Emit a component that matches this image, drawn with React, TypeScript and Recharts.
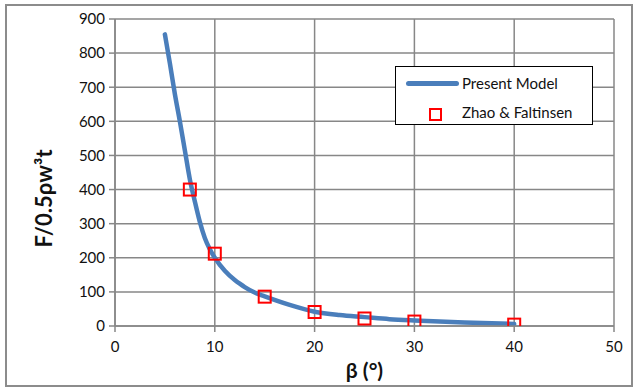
import React from "react";
import {
  ComposedChart,
  Line,
  Scatter,
  XAxis,
  YAxis,
  CartesianGrid,
} from "recharts";

const modelBeta = [5, 5.5, 6, 6.5, 7, 7.5, 8, 8.5, 9, 9.5, 10, 11, 12, 12.5, 13, 14, 15, 17.5, 20, 22.5, 25, 27.5, 30, 35, 40];
const modelForce = [855, 770, 680, 600, 515, 430, 365, 305, 258, 225, 200, 162, 135, 124, 114, 98, 87, 62, 42, 32, 26, 20, 16, 10, 6];

const expBeta = [7.5, 10, 15, 20, 25, 30, 40];
const expForce = [400, 212, 86, 41, 22, 13, 4];

const xTicks = [0, 10, 20, 30, 40, 50];
const yTicks = [0, 100, 200, 300, 400, 500, 600, 700, 800, 900];

const modelData = modelBeta.map((b, i) => ({ beta: b, model: modelForce[i] }));
const expData = expBeta.map((b, i) => ({ beta: b, exp: expForce[i] }));

const FONT = "Lato, 'Open Sans', sans-serif";
const GRID = "#878787";
const BLUE = "#4A7EBB";
const RED = "#FF0000";

const SquareShape = (props: any) => {
  const { cx, cy } = props;
  if (cx == null || cy == null) return null;
  const s = 12;
  return (
    <rect x={cx - s / 2} y={cy - s / 2} width={s} height={s} fill="none" stroke={RED} strokeWidth={2} />
  );
};

const LegendBox = () => (
  <div
    style={{
      position: "absolute",
      left: 395,
      top: 66,
      width: 198,
      height: 59,
      border: "1.5px solid #000",
      background: "#fff",
      fontFamily: FONT,
      fontSize: 15,
      color: "#111",
      boxSizing: "border-box",
    }}
  >
    <div style={{ position: "absolute", left: 10, top: 14, width: 53, height: 5, background: BLUE, borderRadius: 3 }} />
    <div style={{ position: "absolute", left: 66, top: 5, lineHeight: "22px" }}>Present Model</div>
    <div
      style={{
        position: "absolute",
        left: 33,
        top: 41,
        width: 9,
        height: 9,
        border: `2px solid ${RED}`,
      }}
    />
    <div style={{ position: "absolute", left: 66, top: 34, lineHeight: "22px" }}>Zhao &amp; Faltinsen</div>
  </div>
);

export default function App() {
  return (
    <div style={{ position: "absolute", left: 0, top: 0, width: 639, height: 392, background: "#fff" }}>
      <div
        style={{
          position: "absolute",
          left: 5,
          top: 4,
          width: 628,
          height: 383,
          border: "2px solid #8c8c8c",
          boxSizing: "border-box",
        }}
      />
      <ComposedChart
        width={639}
        height={392}
        margin={{ top: 19, right: 25, bottom: 0, left: 0 }}
        style={{ fontFamily: FONT }}
      >
        <CartesianGrid stroke={GRID} strokeWidth={1.5} />
        <XAxis
          type="number"
          dataKey="beta"
          domain={[0, 50]}
          ticks={xTicks}
          allowDataOverflow
          height={66}
          stroke={GRID}
          strokeWidth={1.5}
          tickSize={6}
          tickMargin={9}
          tick={{ fill: "#111", fontSize: 15, fontFamily: FONT }}
          label={{
            value: "β (°)",
            position: "insideBottom",
            offset: 14,
            style: { fontSize: 21, fontWeight: 700, fill: "#111", fontFamily: FONT },
          }}
        />
        <YAxis
          type="number"
          domain={[0, 900]}
          ticks={yTicks}
          allowDataOverflow
          width={115}
          stroke={GRID}
          strokeWidth={1.5}
          tickSize={6}
          tickMargin={4}
          tick={{ fill: "#111", fontSize: 15, fontFamily: FONT }}
          label={{
            value: "F/0.5ρw³t",
            angle: -90,
            position: "insideLeft",
            offset: 44,
            dy: 26,
            style: { fontSize: 22, fontWeight: 700, fill: "#111", fontFamily: FONT, textAnchor: "middle" },
          }}
        />
        <Line
          data={modelData}
          dataKey="model"
          type="monotone"
          stroke={BLUE}
          strokeWidth={4.5}
          strokeLinecap="round"
          dot={false}
          isAnimationActive={false}
          name="Present Model"
        />
        <Scatter
          data={expData}
          dataKey="exp"
          shape={SquareShape}
          isAnimationActive={false}
          name="Zhao & Faltinsen"
        />
      </ComposedChart>
      <LegendBox />
    </div>
  );
}
